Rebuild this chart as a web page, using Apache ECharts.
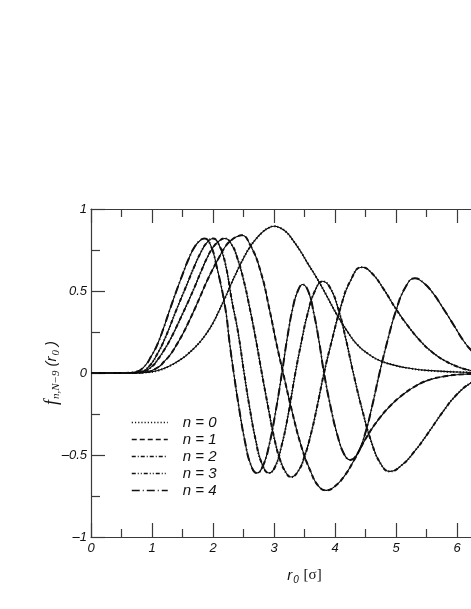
<!DOCTYPE html>
<html>
<head>
<meta charset="utf-8">
<script src="https://cdn.jsdelivr.net/npm/echarts@6/dist/echarts.min.js"></script>
<style>
  html, body { margin: 0; padding: 0; background: #fff; }
  #main { width: 471px; height: 609px; }
</style>
</head>
<body>
<div id="main"></div>
<script>
// values, [r0, f]
const n0Data = [[0, 0], [0.6, 0], [0.9, 0.004], [1.1, 0.015], [1.3, 0.045], [1.5, 0.09], [1.6, 0.12], [1.7, 0.155],
  [1.8, 0.195], [1.9, 0.245], [2.0, 0.305], [2.1, 0.38], [2.2, 0.46], [2.3, 0.545], [2.4, 0.625], [2.5, 0.7],
  [2.6, 0.765], [2.7, 0.815], [2.8, 0.855], [2.9, 0.882], [3.0, 0.895], [3.1, 0.885], [3.2, 0.86], [3.3, 0.815],
  [3.43, 0.745], [3.55, 0.67], [3.7, 0.58], [3.85, 0.48], [4.03, 0.356], [4.2, 0.255], [4.36, 0.175], [4.55, 0.115],
  [4.74, 0.075], [5.0, 0.045], [5.25, 0.027], [5.5, 0.016], [6.0, 0.006], [6.5, 0.002]];
const n1Data = [[0, 0], [0.6, 0], [0.9, 0.005], [1.1, 0.035], [1.2, 0.07], [1.3, 0.112], [1.4, 0.17], [1.5, 0.235],
  [1.6, 0.31], [1.7, 0.39], [1.8, 0.475], [1.9, 0.56], [2.0, 0.635], [2.1, 0.705], [2.2, 0.77], [2.3, 0.81],
  [2.4, 0.833], [2.47, 0.84], [2.61, 0.78], [2.78, 0.62], [2.93, 0.38], [3.04, 0.18], [3.15, 0],
  [3.3, -0.24], [3.45, -0.45], [3.6, -0.6], [3.73, -0.69], [3.86, -0.716], [4.0, -0.69], [4.15, -0.63], [4.3, -0.54],
  [4.52, -0.39], [4.72, -0.28], [4.92, -0.195], [5.12, -0.13], [5.32, -0.08], [5.52, -0.045], [5.8, -0.02],
  [6.1, -0.008], [6.5, -0.003]];
const n2Data = [[0, 0], [0.6, 0], [0.85, 0.008], [1.0, 0.04], [1.1, 0.085], [1.2, 0.14], [1.3, 0.205], [1.4, 0.28],
  [1.5, 0.36], [1.6, 0.44], [1.7, 0.525], [1.8, 0.615], [1.9, 0.7], [2.0, 0.765], [2.1, 0.805], [2.19, 0.82],
  [2.3, 0.787], [2.4, 0.7], [2.5, 0.57], [2.6, 0.4], [2.7, 0.21], [2.8, 0],
  [2.9, -0.2], [3.0, -0.39], [3.1, -0.53], [3.2, -0.61], [3.28, -0.634], [3.4, -0.596], [3.5, -0.51], [3.6, -0.38],
  [3.7, -0.217], [3.82, 0], [3.95, 0.2], [4.1, 0.41], [4.25, 0.56], [4.44, 0.645], [4.6, 0.61], [4.8, 0.51],
  [5.0, 0.39], [5.2, 0.285], [5.4, 0.195], [5.6, 0.125], [5.8, 0.075], [6.0, 0.04], [6.23, 0.015], [6.5, 0.005]];
const n3Data = [[0, 0], [0.6, 0], [0.8, 0.006], [0.95, 0.04], [1.1, 0.125], [1.2, 0.2], [1.3, 0.29], [1.4, 0.385],
  [1.5, 0.475], [1.6, 0.565], [1.7, 0.655], [1.8, 0.735], [1.9, 0.795], [2.0, 0.82], [2.1, 0.78], [2.2, 0.67],
  [2.31, 0.44], [2.41, 0.25], [2.51, 0],
  [2.6, -0.21], [2.7, -0.41], [2.8, -0.55], [2.92, -0.61], [3.02, -0.57], [3.12, -0.45], [3.22, -0.28], [3.35, 0],
  [3.45, 0.19], [3.55, 0.36], [3.67, 0.5], [3.8, 0.559], [3.92, 0.52], [4.05, 0.395], [4.17, 0.22], [4.3, 0],
  [4.45, -0.23], [4.6, -0.424], [4.75, -0.554], [4.9, -0.6], [5.1, -0.56], [5.3, -0.48], [5.5, -0.38], [5.8, -0.22],
  [6.0, -0.13], [6.23, -0.06], [6.5, -0.02]];
const n4Data = [[0, 0], [0.5, 0], [0.7, 0.005], [0.85, 0.03], [1.0, 0.11], [1.1, 0.185], [1.2, 0.285], [1.3, 0.395],
  [1.4, 0.5], [1.5, 0.6], [1.6, 0.695], [1.7, 0.77], [1.8, 0.812], [1.86, 0.82], [1.96, 0.78], [2.06, 0.65],
  [2.2, 0.4], [2.27, 0.19], [2.34, 0],
  [2.43, -0.22], [2.52, -0.41], [2.62, -0.56], [2.72, -0.61], [2.82, -0.565], [2.92, -0.44], [3.02, -0.25], [3.13, 0],
  [3.22, 0.22], [3.31, 0.4], [3.39, 0.5], [3.47, 0.54], [3.56, 0.5], [3.65, 0.37], [3.74, 0.19], [3.82, 0],
  [3.93, -0.21], [4.04, -0.38], [4.15, -0.495], [4.25, -0.53], [4.37, -0.49], [4.49, -0.375], [4.61, -0.2], [4.73, 0],
  [4.87, 0.21], [5.0, 0.38], [5.15, 0.52], [5.31, 0.578], [5.45, 0.55], [5.6, 0.49], [5.78, 0.39], [5.95, 0.29],
  [6.1, 0.2], [6.23, 0.14], [6.4, 0.08], [6.6, 0.04]];

const seriesData = [n0Data, n1Data, n2Data, n3Data, n4Data];
const legendNames = ['n = 0', 'n = 1', 'n = 2', 'n = 3', 'n = 4'];
const dashTypes = [[1.2, 2], [5, 3], [4, 2, 1, 2], [4, 2, 1, 2, 1, 2], [8, 3, 1, 3]];

const xMin = 0, xMax = 7, xStep = 1;
const yMin = -1, yMax = 1, yStep = 0.5;

const chart = echarts.init(document.getElementById('main'));

const font = 'Liberation Sans, Arial, sans-serif';
const serif = 'Liberation Serif, Times New Roman, serif';
const frameLine = { color: '#3a3a3a', width: 1.2 };

const tickLabel = {
  fontFamily: font,
  fontStyle: 'italic',
  fontSize: 13,
  color: '#111',
  formatter: (v) => String(v).replace('-', '\u2013')
};

const series = [];
seriesData.forEach((d, i) => {
  // plain curve under the styled one
  series.push({
    type: 'line',
    name: 'solid' + i,
    data: d,
    smooth: 0.5,
    symbol: 'none',
    silent: true,
    lineStyle: { color: '#000', width: 1.1 }
  });
  series.push({
    type: 'line',
    name: legendNames[i],
    data: d,
    smooth: 0.5,
    symbol: 'none',
    itemStyle: { color: '#111' },
    lineStyle: { color: '#111', width: 2, type: dashTypes[i] }
  });
});

const option = {
  animation: false,
  backgroundColor: '#fff',
  grid: { left: 91, top: 209, width: 427, height: 328, outerBoundsMode: 'none', containLabel: false },
  legend: {
    data: legendNames,
    orient: 'vertical',
    left: 131,
    top: 415,
    padding: 0,
    itemWidth: 36,
    itemHeight: 14,
    itemGap: 2,
    itemStyle: { color: 'transparent', borderColor: 'transparent', opacity: 0 },
    lineStyle: { width: 1.5 },
    textStyle: { fontFamily: font, fontStyle: 'italic', fontSize: 15, color: '#111', padding: [0, 0, 0, 10] }
  },
  xAxis: [{
    type: 'value',
    min: xMin,
    max: xMax,
    interval: xStep,
    name: '{r|r}{sub|0}{u| [\u03c3]}',
    nameLocation: 'middle',
    nameGap: 29,
    nameMoveOverlap: false,
    nameTextStyle: {
      rich: {
        r: { fontFamily: font, fontStyle: 'italic', fontSize: 15, color: '#111' },
        sub: { fontFamily: font, fontStyle: 'italic', fontSize: 10, color: '#111', padding: [9, 1, 0, 1] },
        u: { fontFamily: serif, fontSize: 15, color: '#111' }
      }
    },
    axisLine: { onZero: false, lineStyle: frameLine },
    axisTick: { inside: true, length: 14, lineStyle: frameLine },
    minorTick: { show: true, splitNumber: 2, length: 8, lineStyle: frameLine },
    axisLabel: Object.assign({ margin: 5 }, tickLabel),
    splitLine: { show: false }
  }, {
    type: 'value',
    position: 'top',
    min: xMin,
    max: xMax,
    interval: xStep,
    axisLine: { onZero: false, lineStyle: frameLine },
    axisTick: { inside: true, length: 14, lineStyle: frameLine },
    minorTick: { show: true, splitNumber: 2, length: 8, lineStyle: frameLine },
    axisLabel: { show: false },
    splitLine: { show: false }
  }],
  yAxis: [{
    type: 'value',
    min: yMin,
    max: yMax,
    interval: yStep,
    name: '{f|f}{sub|n,N\u22129}{p|(r}{sub|0}{p|)}',
    nameLocation: 'middle',
    nameRotate: 90,
    nameGap: 29,
    nameMoveOverlap: false,
    nameTextStyle: {
      rich: {
        f: { fontFamily: serif, fontStyle: 'italic', fontSize: 18, color: '#111' },
        sub: { fontFamily: serif, fontStyle: 'italic', fontSize: 11, color: '#111', padding: [9, 1, 0, 1] },
        p: { fontFamily: font, fontStyle: 'italic', fontSize: 15, color: '#111', padding: [0, 0, 0, 3] }
      }
    },
    axisLine: { onZero: false, lineStyle: frameLine },
    axisTick: { inside: true, length: 14, lineStyle: frameLine },
    minorTick: { show: true, splitNumber: 2, length: 9, lineStyle: frameLine },
    axisLabel: Object.assign({ margin: 4 }, tickLabel),
    splitLine: { show: false }
  }, {
    type: 'value',
    position: 'right',
    min: yMin,
    max: yMax,
    interval: yStep,
    axisLine: { onZero: false, lineStyle: frameLine },
    axisTick: { inside: true, length: 14, lineStyle: frameLine },
    axisLabel: { show: false },
    splitLine: { show: false }
  }],
  series: series
};

chart.setOption(option);
</script>
</body>
</html>
